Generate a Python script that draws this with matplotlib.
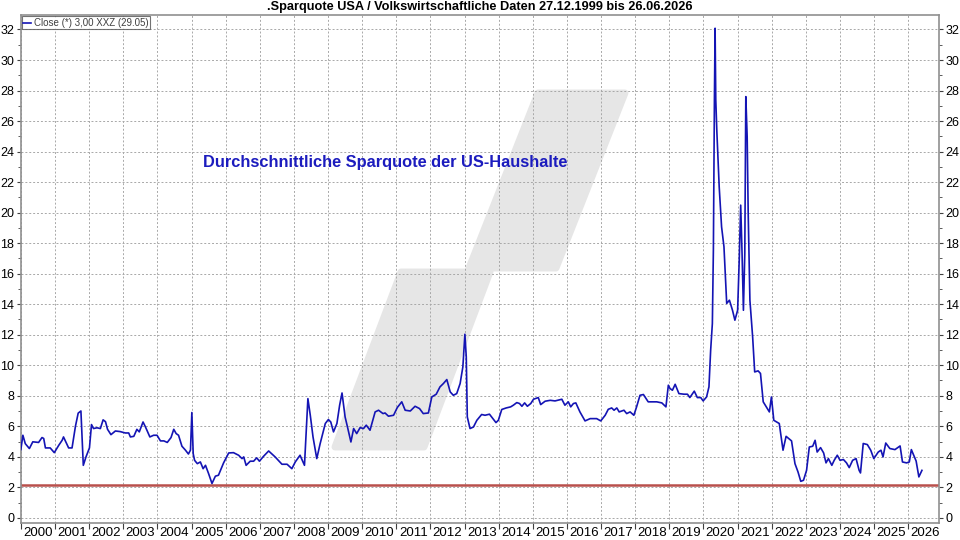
import matplotlib
matplotlib.use('Agg')
from matplotlib import pyplot as plt
from matplotlib.patches import Polygon
import numpy as np

plt.rcParams['font.family'] = ['Liberation Sans', 'DejaVu Sans']

title = '.Sparquote USA / Volkswirtschaftliche Daten 27.12.1999 bis 26.06.2026'
note = 'Durchschnittliche Sparquote der US-Haushalte'
legend_label = 'Close (*) 3,00 XXZ (29.05)'
years = list(range(2000, 2027))
ref_level = 2.15

# decimal year / saving rate in percent
t = [2000.00, 2000.06, 2000.13, 2000.25, 2000.35, 2000.52, 2000.62, 2000.67, 2000.72, 2000.86,
     2000.98, 2001.11, 2001.21, 2001.25, 2001.40, 2001.50, 2001.60, 2001.68, 2001.76, 2001.83,
     2001.91, 2002.01, 2002.07, 2002.13, 2002.23, 2002.33, 2002.41, 2002.48, 2002.54, 2002.64,
     2002.77, 2002.91, 2003.06, 2003.16, 2003.21, 2003.31, 2003.40, 2003.47, 2003.58, 2003.65,
     2003.78, 2003.89, 2003.99, 2004.09, 2004.19, 2004.29, 2004.40, 2004.48, 2004.55, 2004.62,
     2004.72, 2004.82, 2004.91, 2004.97, 2005.01, 2005.05, 2005.09, 2005.17, 2005.26, 2005.34,
     2005.41, 2005.50, 2005.60, 2005.70, 2005.79, 2005.94, 2006.09, 2006.23, 2006.38, 2006.48,
     2006.53, 2006.60, 2006.72, 2006.82, 2006.91, 2006.99, 2007.11, 2007.26, 2007.45, 2007.65,
     2007.80, 2007.94, 2008.04, 2008.18, 2008.31, 2008.41, 2008.48, 2008.56, 2008.67, 2008.77,
     2008.92, 2009.01, 2009.08, 2009.16, 2009.26, 2009.34, 2009.41, 2009.50, 2009.57, 2009.67,
     2009.75, 2009.84, 2009.94, 2010.04, 2010.12, 2010.23, 2010.38, 2010.48, 2010.61, 2010.67,
     2010.77, 2010.92, 2011.03, 2011.16, 2011.26, 2011.41, 2011.55, 2011.68, 2011.79, 2011.94,
     2012.04, 2012.17, 2012.28, 2012.38, 2012.48, 2012.58, 2012.67, 2012.77, 2012.87, 2012.95,
     2013.01, 2013.05, 2013.08, 2013.16, 2013.26, 2013.36, 2013.50, 2013.60, 2013.73, 2013.83,
     2013.92, 2013.99, 2014.09, 2014.22, 2014.35, 2014.43, 2014.53, 2014.61, 2014.68, 2014.76,
     2014.84, 2014.94, 2015.02, 2015.16, 2015.23, 2015.36, 2015.51, 2015.65, 2015.85, 2015.94,
     2016.04, 2016.11, 2016.19, 2016.26, 2016.38, 2016.53, 2016.68, 2016.87, 2016.99, 2017.12,
     2017.21, 2017.31, 2017.38, 2017.46, 2017.53, 2017.67, 2017.75, 2017.85, 2017.96, 2018.04,
     2018.14, 2018.24, 2018.38, 2018.48, 2018.63, 2018.78, 2018.90, 2018.97, 2019.02, 2019.09,
     2019.17, 2019.28, 2019.43, 2019.53, 2019.60, 2019.73, 2019.82, 2019.92, 2019.99, 2020.09,
     2020.16, 2020.21, 2020.26, 2020.29, 2020.32, 2020.34, 2020.36, 2020.39, 2020.46, 2020.53,
     2020.60, 2020.68, 2020.76, 2020.85, 2020.92, 2021.00, 2021.05, 2021.09, 2021.13, 2021.17,
     2021.21, 2021.24, 2021.28, 2021.31, 2021.36, 2021.44, 2021.50, 2021.60, 2021.67, 2021.75,
     2021.93, 2021.99, 2022.06, 2022.22, 2022.33, 2022.42, 2022.58, 2022.68, 2022.77, 2022.85,
     2022.93, 2023.02, 2023.10, 2023.20, 2023.27, 2023.33, 2023.43, 2023.52, 2023.59, 2023.66,
     2023.76, 2023.83, 2023.92, 2024.00, 2024.10, 2024.19, 2024.27, 2024.37, 2024.47, 2024.56,
     2024.60, 2024.68, 2024.80, 2024.90, 2024.99, 2025.12, 2025.20, 2025.26, 2025.34, 2025.46,
     2025.61, 2025.76, 2025.83, 2025.95, 2026.03, 2026.09, 2026.23, 2026.31, 2026.40]

rate = [4.47, 5.41, 4.86, 4.54, 4.98, 4.94, 5.26, 5.20, 4.58, 4.58,
        4.27, 4.75, 5.08, 5.30, 4.58, 4.58, 6.00, 6.86, 7.00, 3.44,
        4.00, 4.58, 6.11, 5.85, 5.90, 5.85, 6.42, 6.30, 5.80, 5.45,
        5.69, 5.65, 5.56, 5.56, 5.30, 5.34, 5.80, 5.63, 6.28, 5.96,
        5.30, 5.41, 5.41, 5.04, 5.04, 4.94, 5.26, 5.80, 5.52, 5.41,
        4.69, 4.44, 4.18, 4.44, 6.90, 4.20, 3.77, 3.55, 3.66, 3.22,
        3.44, 2.90, 2.25, 2.73, 2.79, 3.60, 4.25, 4.27, 4.10, 3.88,
        3.99, 3.44, 3.71, 3.71, 3.93, 3.71, 4.03, 4.38, 3.99, 3.51,
        3.51, 3.22, 3.66, 4.10, 3.44, 7.81, 6.72, 5.30, 3.88, 4.87,
        6.18, 6.44, 6.28, 5.63, 6.18, 7.38, 8.18, 6.61, 5.95, 4.97,
        5.85, 5.52, 5.91, 5.85, 6.07, 5.74, 6.94, 7.05, 6.83, 6.87,
        6.66, 6.72, 7.23, 7.60, 7.05, 7.00, 7.31, 7.16, 6.83, 6.87,
        7.92, 8.10, 8.58, 8.80, 9.06, 8.25, 8.03, 8.14, 8.80, 9.89,
        12.03, 10.55, 6.61, 5.85, 5.95, 6.39, 6.77, 6.72, 6.79, 6.50,
        6.24, 6.39, 7.10, 7.20, 7.27, 7.38, 7.55, 7.49, 7.31, 7.53,
        7.31, 7.49, 7.77, 7.88, 7.42, 7.64, 7.70, 7.66, 7.77, 7.38,
        7.60, 7.27, 7.49, 7.53, 6.94, 6.35, 6.50, 6.50, 6.35, 6.72,
        7.11, 7.20, 7.05, 7.20, 6.94, 7.05, 6.83, 6.94, 6.72, 7.27,
        8.03, 8.08, 7.60, 7.60, 7.60, 7.53, 7.27, 8.69, 8.47, 8.36,
        8.75, 8.14, 8.10, 8.10, 7.88, 8.30, 7.88, 7.88, 7.66, 7.92,
        8.58, 10.98, 12.73, 17.54, 27.38, 32.08, 27.40, 25.40, 21.70, 19.07,
        17.76, 14.05, 14.26, 13.60, 12.95, 13.60, 17.10, 20.49, 17.32, 13.60,
        17.30, 27.60, 24.97, 19.95, 14.26, 11.86, 9.56, 9.63, 9.46, 7.60,
        6.94, 7.92, 6.39, 6.18, 4.43, 5.34, 5.04, 3.55, 3.00, 2.39,
        2.46, 3.11, 4.64, 4.69, 5.08, 4.31, 4.60, 4.25, 3.60, 3.88,
        3.44, 3.77, 4.10, 3.77, 3.82, 3.60, 3.29, 3.77, 3.88, 3.11,
        2.94, 4.87, 4.80, 4.43, 3.88, 4.31, 4.43, 3.99, 4.90, 4.54,
        4.47, 4.71, 3.66, 3.60, 3.66, 4.47, 3.72, 2.68, 3.11]

fig = plt.figure(figsize=(9.6, 5.4), dpi=100)
W, H = 960.0, 540.0
ax = fig.add_axes([20.5 / W, (H - 523) / H, (939 - 20.5) / W, (523 - 15) / H])

# grey watermark behind the grid (pixel outline, top-left origin)
for pts in ([(335, 447), (424, 447), (490, 272), (401, 272)],
            [(469, 268), (556, 268), (625, 93), (538, 93)]):
    poly = Polygon([(x / W, 1 - y / H) for x, y in pts], closed=True,
                   transform=fig.transFigure, facecolor='#e6e6e6',
                   edgecolor='#e6e6e6', linewidth=5, joinstyle='round', zorder=0.2)
    ax.add_patch(poly)

ax.plot(t, rate, color='#1414b4', lw=1.2, label=legend_label, zorder=3)
ax.axhline(ref_level, color='#b9504c', lw=1.8, zorder=2)

ax.set_xlim(1999.99, 2026.9)
ax.set_ylim(-0.34, 32.95)

ax.set_xticks(years)
ax.set_xticklabels([])
ax.set_xticks([y + 0.5 for y in years], minor=True)
ax.set_xticklabels([str(y) for y in years], minor=True)
ax.tick_params(axis='x', which='major', length=4, color='#404040')
ax.tick_params(axis='x', which='minor', length=0, labelsize=9.5, pad=3)

ax.set_yticks(range(0, 33, 2))
ax.set_yticks(range(1, 33, 2), minor=True)
ax.tick_params(axis='y', which='major', length=3, labelsize=9, left=True, right=True,
               labelleft=True, labelright=True, color='#404040', pad=1.5)
ax.tick_params(axis='y', which='minor', length=2, left=True, right=True, color='#404040')

ax.grid(True, which='major', color='#a8a8a8', linestyle=(0, (2, 2)), linewidth=0.7)
ax.set_axisbelow(True)
for s in ax.spines.values():
    s.set_color('#909090')
    s.set_linewidth(1.2)

fig.text(0.5, 1 - 7 / H, title, ha='center', va='center', fontsize=9.2, fontweight='bold')
ax.text(203 / W, 1 - 163 / H, note, transform=fig.transFigure, ha='left', va='center',
        fontsize=11.8, fontweight='bold', color='#1c1cbe', zorder=4)

leg = ax.legend(loc='upper left', fontsize=7, handlelength=0.8, handletextpad=0.3,
                borderpad=0.15, borderaxespad=0.15, frameon=True, fancybox=False)
leg.get_frame().set_edgecolor('#505050')
leg.get_frame().set_linewidth(0.8)
for txt in leg.get_texts():
    txt.set_color('#404040')

fig.savefig('out.png', dpi=100)
